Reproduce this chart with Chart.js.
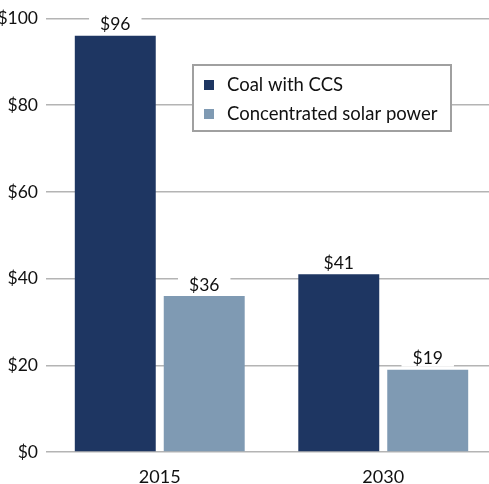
<!DOCTYPE html>
<html><head><meta charset="utf-8">
<script src="https://cdn.jsdelivr.net/npm/chart.js@4/dist/chart.umd.min.js"></script>
<style>html,body{margin:0;padding:0;background:#fff;overflow:hidden;width:489px;height:484px}canvas{display:block}</style>
</head><body>
<canvas id="c" width="495" height="484" style="width:495px;height:484px"></canvas>
<script>
const categories = ['2015', '2030'];
const seriesNames = ['Coal with CCS', 'Concentrated solar power'];
const coalValues = [96, 41];
const solarValues = [36, 19];
const yTicks = [0, 20, 40, 60, 80, 100];
const colors = ['#1e3662', '#7f9ab3'];
const FONT = 'Lato, "Open Sans", sans-serif';

const labelPlugin = {
  id: 'valueLabels',
  afterDatasetsDraw(chart) {
    const ctx = chart.ctx;
    ctx.save();
    ctx.font = '17.5px ' + FONT;
    ctx.textAlign = 'center';
    ctx.textBaseline = 'middle';
    chart.data.datasets.forEach((ds, di) => {
      chart.getDatasetMeta(di).data.forEach((bar, i) => {
        const txt = '$' + ds.data[i];
        const y = bar.y - 12;
        const w = ctx.measureText(txt).width + 22;
        ctx.fillStyle = '#fff';
        ctx.fillRect(bar.x - w / 2, y - 9, w, 18);
        ctx.fillStyle = '#111';
        ctx.fillText(txt, bar.x, y + 1);
      });
    });
    // legend
    const lx = 193, ly = 65, lw = 258, lh = 66;
    ctx.fillStyle = '#fff';
    ctx.fillRect(lx, ly, lw, lh);
    ctx.strokeStyle = '#a0a0a0';
    ctx.lineWidth = 2;
    ctx.strokeRect(lx, ly, lw, lh);
    ctx.font = '18.5px ' + FONT;
    ctx.textAlign = 'left';
    seriesNames.forEach((n, i) => {
      const cy = 85 + i * 29;
      ctx.fillStyle = colors[i];
      ctx.fillRect(204, cy - 5, 10, 10);
      ctx.fillStyle = '#111';
      ctx.fillText(n, 227, cy);
    });
    ctx.restore();
  }
};

new Chart(document.getElementById('c'), {
  type: 'bar',
  data: {
    labels: categories,
    datasets: [
      { label: seriesNames[0], data: coalValues, backgroundColor: colors[0] },
      { label: seriesNames[1], data: solarValues, backgroundColor: colors[1] }
    ]
  },
  options: {
    responsive: false,
    animation: false,
    devicePixelRatio: 1,
    categoryPercentage: 0.796,
    barPercentage: 0.91,
    layout: { padding: { top: 11, left: 0, right: 0, bottom: 0 } },
    plugins: { legend: { display: false }, tooltip: { enabled: false } },
    scales: {
      x: {
        grid: { display: false },
        border: { display: false },
        ticks: { color: '#111', font: { family: FONT, size: 18 }, padding: 6 },
        afterFit(s) { s.height = 32; }
      },
      y: {
        min: 0, max: 100,
        afterBuildTicks(s) { s.ticks = yTicks.map(v => ({ value: v })); },
        grid: { color: '#b4b4b4', lineWidth: 1.5, drawTicks: true, tickLength: 2, tickColor: '#b4b4b4' },
        border: { display: false },
        ticks: { color: '#111', font: { family: FONT, size: 17.5 }, padding: 8, callback: v => '$' + v },
        afterFit(s) { s.width = 48; }
      }
    }
  },
  plugins: [labelPlugin]
});
</script>
</body></html>
